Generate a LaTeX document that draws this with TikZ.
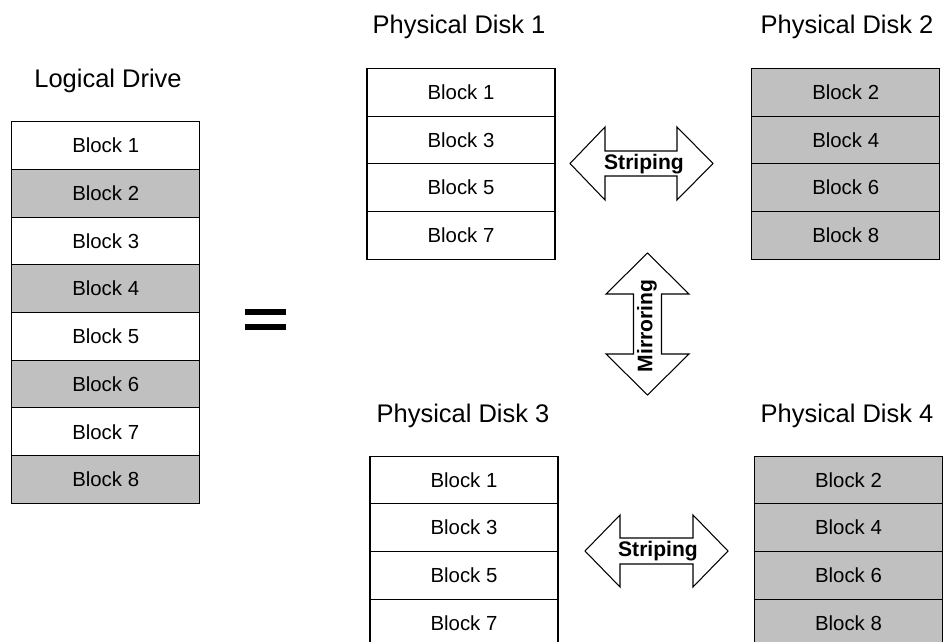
\documentclass[tikz,border=0pt]{standalone}
\usepackage{fontspec}
\setmainfont{Liberation Sans}
\definecolor{silver}{RGB}{192,192,192}
\tikzset{
  blk/.style={draw,line width=0.6pt,minimum width=3.76cm,minimum height=0.954cm,
    inner sep=0pt,font=\fontsize{11.6}{14}\selectfont},
  blkgray/.style={blk,fill=silver},
  drivetitle/.style={anchor=base,font=\fontsize{14.5}{17}\selectfont},
  arrowlbl/.style={inner sep=0pt,font=\fontsize{12}{14}\selectfont\bfseries},
}
\begin{document}
\begin{tikzpicture}[x=0.02cm,y=-0.02cm,line join=miter]
  \clip (0,0) rectangle (944,642);
  % logical drive
  \node[drivetitle] (ldt) at (108,88) {Logical Drive};
  \node[blk]     (l1) at (105.7,145.6) {Block 1};
  \node[blkgray] (l2) at (105.7,193.3) {Block 2};
  \node[blk]     (l3) at (105.7,241.0) {Block 3};
  \node[blkgray] (l4) at (105.7,288.7) {Block 4};
  \node[blk]     (l5) at (105.7,336.4) {Block 5};
  \node[blkgray] (l6) at (105.7,384.1) {Block 6};
  \node[blk]     (l7) at (105.7,431.8) {Block 7};
  \node[blkgray] (l8) at (105.7,479.5) {Block 8};
  % equals sign
  \fill (245,309) rectangle (286,315);
  \fill (245,324) rectangle (286,330);
  % physical disks 1 and 2
  \node[drivetitle] (pdt1) at (459,34) {Physical Disk 1};
  \node[blk] (a1) at (461,92.2) {Block 1};
  \node[blk] (a3) at (461,139.9) {Block 3};
  \node[blk] (a5) at (461,187.6) {Block 5};
  \node[blk] (a7) at (461,235.3) {Block 7};
  \node[drivetitle] (pdt2) at (847,34) {Physical Disk 2};
  \node[blkgray] (b2) at (845.7,92.2) {Block 2};
  \node[blkgray] (b4) at (845.7,139.9) {Block 4};
  \node[blkgray] (b6) at (845.7,187.6) {Block 6};
  \node[blkgray] (b8) at (845.7,235.3) {Block 8};
  % physical disks 3 and 4
  \node[drivetitle] (pdt3) at (463,422) {Physical Disk 3};
  \node[blk] (c1) at (464,479.9) {Block 1};
  \node[blk] (c3) at (464,527.6) {Block 3};
  \node[blk] (c5) at (464,575.3) {Block 5};
  \node[blk] (c7) at (464,623.0) {Block 7};
  \node[drivetitle] (pdt4) at (847,422) {Physical Disk 4};
  \node[blkgray] (d2) at (848.5,479.9) {Block 2};
  \node[blkgray] (d4) at (848.5,527.6) {Block 4};
  \node[blkgray] (d6) at (848.5,575.3) {Block 6};
  \node[blkgray] (d8) at (848.5,623.0) {Block 8};
  % striping arrows
  \draw[line width=0.6pt] (570,163.5) -- (605,127) -- (605,151) -- (677,151) -- (677,127)
    -- (713,163.5) -- (677,200) -- (677,176) -- (605,176) -- (605,200) -- cycle;
  \node[arrowlbl] (st1) at (644,164) {Striping};
  \draw[line width=0.6pt] (585,551) -- (620,515) -- (620,538) -- (693,538) -- (693,515)
    -- (728,551) -- (693,587) -- (693,564) -- (620,564) -- (620,587) -- cycle;
  \node[arrowlbl] (st2) at (658,551) {Striping};
  % mirroring arrow
  \draw[line width=0.6pt] (647.5,253) -- (689,294) -- (661.5,294) -- (661.5,354) -- (689,354)
    -- (647.5,395) -- (606,354) -- (633.5,354) -- (633.5,294) -- (606,294) -- cycle;
  \node[arrowlbl,rotate=90] (mir) at (647,326) {Mirroring};
\end{tikzpicture}
\end{document}
